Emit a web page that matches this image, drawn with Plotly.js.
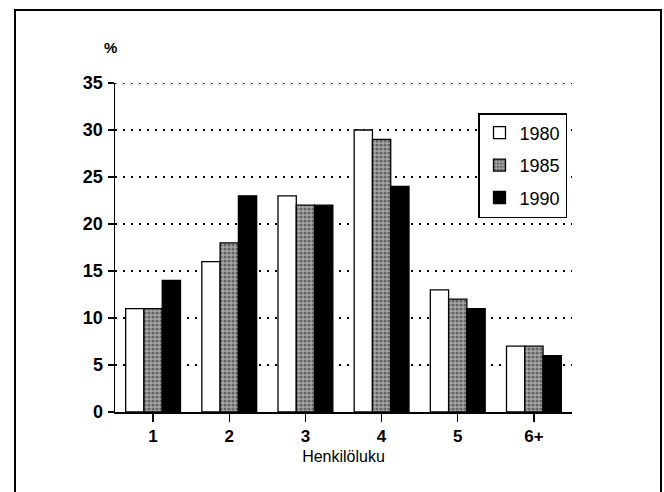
<!DOCTYPE html>
<html>
<head>
<meta charset="utf-8">
<script src="https://cdn.plot.ly/plotly-3.0.1.min.js"></script>
<style>html,body{margin:0;padding:0;background:#fff;}#chart{width:664px;height:492px;}</style>
</head>
<body>
<div id="chart"></div>
<script>
const categories = ["1", "2", "3", "4", "5", "6+"];
const seriesNames = ["1980", "1985", "1990"];
const values1980 = [11, 16, 23, 30, 13, 7];
const values1985 = [11, 18, 22, 29, 12, 7];
const values1990 = [14, 23, 22, 24, 11, 6];
const yTicks = [0, 5, 10, 15, 20, 25, 30, 35];
const yMax = 35;

const W = 664, H = 492;
const M = {l: 115, r: 92, t: 83, b: 80};
const pw = W - M.l - M.r, ph = H - M.t - M.b;
const px = v => (v - M.l) / pw;
const py = v => (H - M.b - v) / ph;

const line = {color: '#000', width: 1.3};
const traces = [
  {type: 'bar', name: seriesNames[0], x: categories, y: values1980, legendgroup: 'a',
   marker: {color: '#ffffff', line: line}},
  {type: 'bar', name: seriesNames[1], x: categories, y: values1985, legendgroup: 'b',
   marker: {color: '#9a9a9a', line: line,
            pattern: {shape: '.', bgcolor: '#a8a8a8', fgcolor: '#202020', size: 4, solidity: 0.5, fillmode: 'overlay'}}},
  {type: 'bar', name: seriesNames[2], x: categories, y: values1990, legendgroup: 'c',
   marker: {color: '#000000', line: line}}
];

const FF = 'Liberation Sans, Arial, sans-serif';
const DASH = '1.5px,6.5px';
const layout = {
  width: W, height: H,
  margin: M,
  paper_bgcolor: '#fff', plot_bgcolor: '#fff',
  barmode: 'group', bargap: 0.28, bargroupgap: 0,
  showlegend: true,
  font: {family: FF, color: '#000'},
  xaxis: {
    type: 'category', range: [-0.5, 5.5],
    showline: true, linecolor: '#000', linewidth: 1.5,
    ticks: 'outside', ticklen: 8, tickwidth: 1.3, tickcolor: '#000',
    showgrid: false, zeroline: false,
    tickfont: {family: FF, size: 17, weight: 'bold', color: '#000'},
    ticklabelstandoff: 0,
    title: {text: 'Henkilöluku', font: {family: FF, size: 16, color: '#000'}, standoff: 6}
  },
  yaxis: {
    range: [0, yMax], tickvals: yTicks, ticktext: yTicks.map(String),
    showline: true, linecolor: '#000', linewidth: 1.5,
    ticks: 'outside', ticklen: 6, tickwidth: 1.3, tickcolor: '#000',
    showgrid: true, gridcolor: '#000', gridwidth: 1.2, griddash: DASH,
    zeroline: false,
    tickfont: {family: FF, size: 18, weight: 'bold', color: '#000'},
    ticklabelstandoff: 1
  },
  legend: {
    x: px(478), y: py(113), xanchor: 'left', yanchor: 'top',
    bgcolor: '#fff', bordercolor: '#000', borderwidth: 1.5,
    font: {family: FF, size: 18, color: '#000'},
    tracegroupgap: 6, itemwidth: 30
  },
  annotations: [
    {xref: 'paper', yref: 'paper', x: px(110), y: py(48), text: '%', showarrow: false,
     xanchor: 'center', yanchor: 'middle',
     font: {family: FF, size: 15, weight: 'bold', color: '#000'}}
  ],
  shapes: [
    {type: 'line', xref: 'paper', yref: 'y', x0: 0, x1: 1, y0: yMax, y1: yMax, layer: 'below',
     line: {color: '#000', width: 1.8, dash: DASH}},
    {type: 'path', xref: 'paper', yref: 'paper', layer: 'above',
     path: 'M ' + px(15) + ' ' + py(496) + ' L ' + px(15) + ' ' + py(10) + ' L ' + px(661) + ' ' + py(10) + ' L ' + px(661) + ' ' + py(496),
     line: {color: '#000', width: 2}}
  ]
};

Plotly.newPlot('chart', traces, layout, {displayModeBar: false, staticPlot: true});
</script>
</body>
</html>
